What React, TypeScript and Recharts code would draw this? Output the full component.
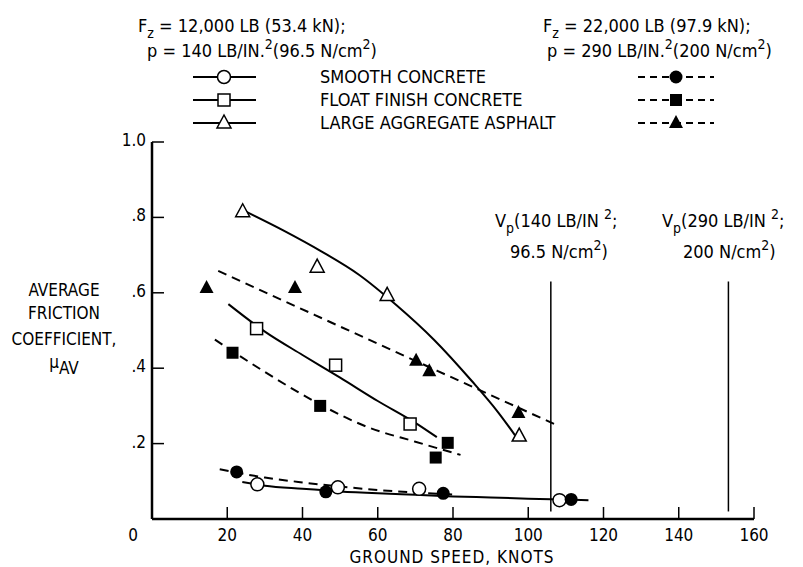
import React from "react"
import { ComposedChart, Line, Scatter, XAxis, YAxis, ReferenceLine } from "recharts"

const FONT = "'Liberation Sans Narrow', 'DejaVu Sans Condensed', 'Arial Narrow', sans-serif"

const speedTicks = [0, 20, 40, 60, 80, 100, 120, 140, 160]
const frictionTicks = [0.2, 0.4, 0.6, 0.8, 1.0]

// measured points: open symbols Fz = 12,000 lb, solid symbols Fz = 22,000 lb
const smoothLightSpeed = [28.0, 49.4, 71.0, 108.3]
const smoothLightMu = [0.092, 0.084, 0.08, 0.05]
const smoothHeavySpeed = [22.5, 46.2, 77.4, 111.4]
const smoothHeavyMu = [0.125, 0.072, 0.068, 0.052]
const floatLightSpeed = [27.8, 48.8, 68.6]
const floatLightMu = [0.505, 0.408, 0.252]
const floatHeavySpeed = [21.4, 44.7, 78.6, 75.4]
const floatHeavyMu = [0.441, 0.3, 0.202, 0.163]
const asphaltLightSpeed = [24.1, 43.9, 62.5, 97.6]
const asphaltLightMu = [0.815, 0.668, 0.593, 0.22]
const asphaltHeavySpeed = [14.5, 38.0, 70.2, 73.7, 97.4]
const asphaltHeavyMu = [0.613, 0.613, 0.42, 0.392, 0.281]

// faired curves
const smoothLightFitSpeed = [24, 30, 40, 50, 60, 70, 80, 90, 100, 116]
const smoothLightFitMu = [0.098, 0.088, 0.08, 0.073, 0.068, 0.064, 0.06, 0.057, 0.054, 0.05]
const smoothHeavyFitSpeed = [18, 30, 40, 50, 60, 70, 80]
const smoothHeavyFitMu = [0.132, 0.11, 0.097, 0.086, 0.077, 0.07, 0.065]
const floatLightFitSpeed = [20.3, 30, 40, 50, 60, 70, 75.7]
const floatLightFitMu = [0.57, 0.497, 0.435, 0.375, 0.313, 0.255, 0.217]
const floatHeavyFitSpeed = [16.7, 30, 45, 57, 70, 82]
const floatHeavyFitMu = [0.476, 0.39, 0.302, 0.245, 0.205, 0.17]
const asphaltLightFitSpeed = [24, 35, 45, 55, 65, 75, 85, 92, 96.5]
const asphaltLightFitMu = [0.82, 0.765, 0.71, 0.648, 0.567, 0.475, 0.366, 0.283, 0.222]
const asphaltHeavyFitSpeed = [17.6, 60, 108]
const asphaltHeavyFitMu = [0.658, 0.465, 0.247]

// placard speeds
const vpSpeeds = [106, 153.2]
const vpTop = 0.63
const vpBottom = 0.02

const zip = (xs: number[], ys: number[]) => xs.map((x, i) => ({ x, y: ys[i] }))

const openCircle = (p: any) => <circle cx={p.cx} cy={p.cy} r={6.5} fill="#fff" stroke="#000" strokeWidth={1.5} />
const solidCircle = (p: any) => <circle cx={p.cx} cy={p.cy} r={6.5} fill="#000" />
const openSquare = (p: any) => (
  <rect x={p.cx - 6} y={p.cy - 6} width={12} height={12} fill="#fff" stroke="#000" strokeWidth={1.5} />
)
const solidSquare = (p: any) => <rect x={p.cx - 6} y={p.cy - 6} width={12} height={12} fill="#000" />
const tri = (cx: number, cy: number) => `${cx},${cy - 8} ${cx - 7},${cy + 5} ${cx + 7},${cy + 5}`
const openTriangle = (p: any) => <polygon points={tri(p.cx, p.cy)} fill="#fff" stroke="#000" strokeWidth={1.5} />
const solidTriangle = (p: any) => <polygon points={tri(p.cx, p.cy)} fill="#000" />

const XTick = (props: any) => {
  const { x, y, payload } = props
  const v = payload.value
  return (
    <text x={v === 0 ? x - 19 : x} y={y + 12 + 22} textAnchor="middle" fontSize={17} fontFamily={FONT} fill="#000">
      {v}
    </text>
  )
}

const YTick = (props: any) => {
  const { x, y, payload } = props
  const label = payload.value.toFixed(1).replace(/^0/, "")
  return (
    <text x={x - 12 - 6} y={y + 4} textAnchor="end" fontSize={17} fontFamily={FONT} fill="#000">
      {label}
    </text>
  )
}

type Part = [string, "n" | "sup" | "sub"]

// text with raised / lowered pieces
const Rich = ({ x, y, parts }: { x: number; y: number; parts: Part[] }) => {
  let level = 0
  return (
    <text x={x} y={y} fontFamily={FONT} fontSize={18} fill="#000">
      {parts.map(([s, k], i) => {
        const target = k === "sup" ? -8 : k === "sub" ? 6 : 0
        const dy = target - level
        level = target
        return (
          <tspan key={i} dy={dy} fontSize={k === "n" ? 18 : 14}>
            {s}
          </tspan>
        )
      })}
    </text>
  )
}

const Overlay = () => {
  const t = { fontFamily: FONT, fontSize: 18, fill: "#000" }
  const rows = [77, 100, 123]
  const names = ["SMOOTH CONCRETE", "FLOAT FINISH CONCRETE", "LARGE AGGREGATE ASPHALT"]
  const marks = [
    [<circle key="a" cx={224} cy={rows[0]} r={6.5} fill="#fff" stroke="#000" strokeWidth={1.5} />,
     <circle key="b" cx={676} cy={rows[0]} r={6.5} fill="#000" />],
    [<rect key="a" x={218} y={rows[1] - 6} width={12} height={12} fill="#fff" stroke="#000" strokeWidth={1.5} />,
     <rect key="b" x={670} y={rows[1] - 6} width={12} height={12} fill="#000" />],
    [<polygon key="a" points={tri(224, rows[2])} fill="#fff" stroke="#000" strokeWidth={1.5} />,
     <polygon key="b" points={tri(676, rows[2])} fill="#000" />],
  ]
  return (
    <svg width={803} height={567} style={{ position: "absolute", left: 0, top: 0, pointerEvents: "none" }}>
      <Rich x={138} y={32} parts={[["F", "n"], ["z", "sub"], [" = 12,000 LB (53.4 kN);", "n"]]} />
      <Rich x={147} y={57} parts={[["p = 140 LB/IN.", "n"], ["2", "sup"], ["(96.5 N/cm", "n"], ["2", "sup"], [")", "n"]]} />
      <Rich x={543} y={32} parts={[["F", "n"], ["z", "sub"], [" = 22,000 LB (97.9 kN);", "n"]]} />
      <Rich x={547} y={57} parts={[["p = 290 LB/IN.", "n"], ["2", "sup"], ["(200 N/cm", "n"], ["2", "sup"], [")", "n"]]} />
      {rows.map((ry, i) => (
        <g key={i}>
          <line x1={193} x2={256} y1={ry} y2={ry} stroke="#000" strokeWidth={2} />
          <line x1={638} x2={714} y1={ry} y2={ry} stroke="#000" strokeWidth={2} strokeDasharray="7 5" />
          {marks[i]}
          <text x={320} y={ry + 6} {...t}>
            {names[i]}
          </text>
        </g>
      ))}
      <g textAnchor="middle" {...t} fontSize={17}>
        <text x={64} y={296}>AVERAGE</text>
        <text x={64} y={319}>FRICTION</text>
        <text x={64} y={345}>COEFFICIENT,</text>
        <text x={64} y={368}>
          {"\u03bc"}
          <tspan dy={6}>AV</tspan>
        </text>
      </g>
      <text x={452} y={563} textAnchor="middle" {...t} fontSize={17} letterSpacing={1}>
        GROUND SPEED, KNOTS
      </text>
      <Rich x={495} y={227} parts={[["V", "n"], ["p", "sub"], ["(140 LB/IN ", "n"], ["2", "sup"], [";", "n"]]} />
      <Rich x={510} y={258} parts={[["96.5 N/cm", "n"], ["2", "sup"], [")", "n"]]} />
      <Rich x={662} y={227} parts={[["V", "n"], ["p", "sub"], ["(290 LB/IN ", "n"], ["2", "sup"], [";", "n"]]} />
      <Rich x={683} y={258} parts={[["200 N/cm", "n"], ["2", "sup"], [")", "n"]]} />
    </svg>
  )
}

export default function App() {
  const solid = { stroke: "#000", strokeWidth: 2, dot: false, isAnimationActive: false, type: "monotone" as const }
  const dashed = { ...solid, strokeDasharray: "9 6" }
  return (
    <div style={{ position: "absolute", left: 0, top: 0, width: 803, height: 567, background: "#fff" }}>
      <ComposedChart width={803} height={567} margin={{ top: 142, right: 49, bottom: 8, left: 92 }}>
        <XAxis
          dataKey="x"
          type="number"
          domain={[0, 160]}
          ticks={speedTicks}
          interval={0}
          tickSize={-12}
          tickMargin={0}
          height={40}
          axisLine={{ stroke: "#000", strokeWidth: 2.5 }}
          tickLine={{ stroke: "#000", strokeWidth: 1.5 }}
          tick={<XTick />}
        />
        <YAxis
          dataKey="y"
          type="number"
          domain={[0, 1]}
          ticks={frictionTicks}
          interval={0}
          tickSize={-12}
          tickMargin={0}
          width={60}
          axisLine={{ stroke: "#000", strokeWidth: 2.5 }}
          tickLine={{ stroke: "#000", strokeWidth: 1.5 }}
          tick={<YTick />}
        />
        {vpSpeeds.map((s) => (
          <ReferenceLine
            key={s}
            segment={[{ x: s, y: vpBottom }, { x: s, y: vpTop }]}
            stroke="#000"
            strokeWidth={1.5}
          />
        ))}
        <Line data={zip(smoothLightFitSpeed, smoothLightFitMu)} dataKey="y" {...solid} />
        <Line data={zip(smoothHeavyFitSpeed, smoothHeavyFitMu)} dataKey="y" {...dashed} />
        <Line data={zip(floatLightFitSpeed, floatLightFitMu)} dataKey="y" {...solid} />
        <Line data={zip(floatHeavyFitSpeed, floatHeavyFitMu)} dataKey="y" {...dashed} />
        <Line data={zip(asphaltLightFitSpeed, asphaltLightFitMu)} dataKey="y" {...solid} />
        <Line data={zip(asphaltHeavyFitSpeed, asphaltHeavyFitMu)} dataKey="y" {...dashed} />
        <Scatter data={zip(smoothLightSpeed, smoothLightMu)} shape={openCircle} isAnimationActive={false} />
        <Scatter data={zip(smoothHeavySpeed, smoothHeavyMu)} shape={solidCircle} isAnimationActive={false} />
        <Scatter data={zip(floatLightSpeed, floatLightMu)} shape={openSquare} isAnimationActive={false} />
        <Scatter data={zip(floatHeavySpeed, floatHeavyMu)} shape={solidSquare} isAnimationActive={false} />
        <Scatter data={zip(asphaltLightSpeed, asphaltLightMu)} shape={openTriangle} isAnimationActive={false} />
        <Scatter data={zip(asphaltHeavySpeed, asphaltHeavyMu)} shape={solidTriangle} isAnimationActive={false} />
      </ComposedChart>
      <Overlay />
    </div>
  )
}
